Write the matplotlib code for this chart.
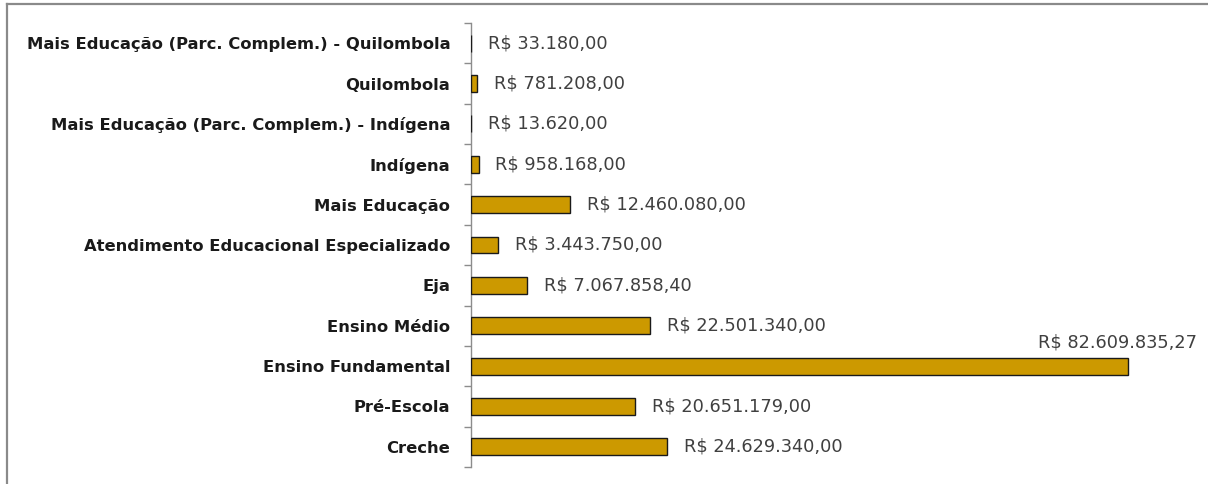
import matplotlib
matplotlib.use("Agg")
import matplotlib.pyplot as plt
from matplotlib.lines import Line2D

categories = [
    "Mais Educação (Parc. Complem.) - Quilombola",
    "Quilombola",
    "Mais Educação (Parc. Complem.) - Indígena",
    "Indígena",
    "Mais Educação",
    "Atendimento Educacional Especializado",
    "Eja",
    "Ensino Médio",
    "Ensino Fundamental",
    "Pré-Escola",
    "Creche",
]
values = [
    33180.00,
    781208.00,
    13620.00,
    958168.00,
    12460080.00,
    3443750.00,
    7067858.40,
    22501340.00,
    82609835.27,
    20651179.00,
    24629340.00,
]


def brl(v):
    s = f"{v:,.2f}"
    s = s.replace(",", "X").replace(".", ",").replace("X", ".")
    return "R$ " + s


W, H = 1208, 484
fig = plt.figure(figsize=(W / 100, H / 100), dpi=100)

ax_left, ax_right = 471, 1187
ax_top, ax_bottom = 23, 467
ax = fig.add_axes([ax_left / W, 1 - ax_bottom / H,
                   (ax_right - ax_left) / W, (ax_bottom - ax_top) / H])

bar_color = "#CC9900"
ypos = list(range(len(categories)))
ax.barh(ypos, values, height=0.42, color=bar_color,
        edgecolor="#1a1a1a", linewidth=1.0, zorder=3)

ax.set_xlim(0, 90e6)
ax.set_ylim(len(categories) - 0.5, -0.5)

# category labels without tick marks; ticks drawn between categories
ax.set_yticks(ypos)
ax.set_yticklabels(categories, fontsize=11.8, fontweight="bold", color="#1a1a1a")
ax.tick_params(axis="y", which="major", length=0, pad=15)
ax.set_yticks([i - 0.5 for i in range(len(categories) + 1)], minor=True)
ax.tick_params(axis="y", which="minor", length=5, width=1.0, color="#8c8c8c")

ax.set_xticks([])
for side in ("top", "right", "bottom"):
    ax.spines[side].set_visible(False)
ax.spines["left"].set_color("#8c8c8c")
ax.spines["left"].set_linewidth(1.0)

imax = max(range(len(values)), key=lambda i: values[i])
for i, v in enumerate(values):
    if i == imax:
        ax.annotate(brl(v), xy=(v, i), xytext=(-8, 17), textcoords="offset points",
                    ha="center", va="center", fontsize=12.8, color="#404040",
                    annotation_clip=False)
    else:
        ax.annotate(brl(v), xy=(v, i), xytext=(12, 0), textcoords="offset points",
                    ha="left", va="center", fontsize=12.8, color="#404040",
                    annotation_clip=False)

# frame lines along the top and left edges of the chart area
fig.add_artist(Line2D([7 / W, 7 / W], [0, 1 - 4 / H], transform=fig.transFigure,
                      color="#8a8a8a", linewidth=1.6))
fig.add_artist(Line2D([7 / W, 1], [1 - 4 / H, 1 - 4 / H], transform=fig.transFigure,
                      color="#8a8a8a", linewidth=1.6))

fig.savefig("out.png", dpi=100, facecolor="white")
